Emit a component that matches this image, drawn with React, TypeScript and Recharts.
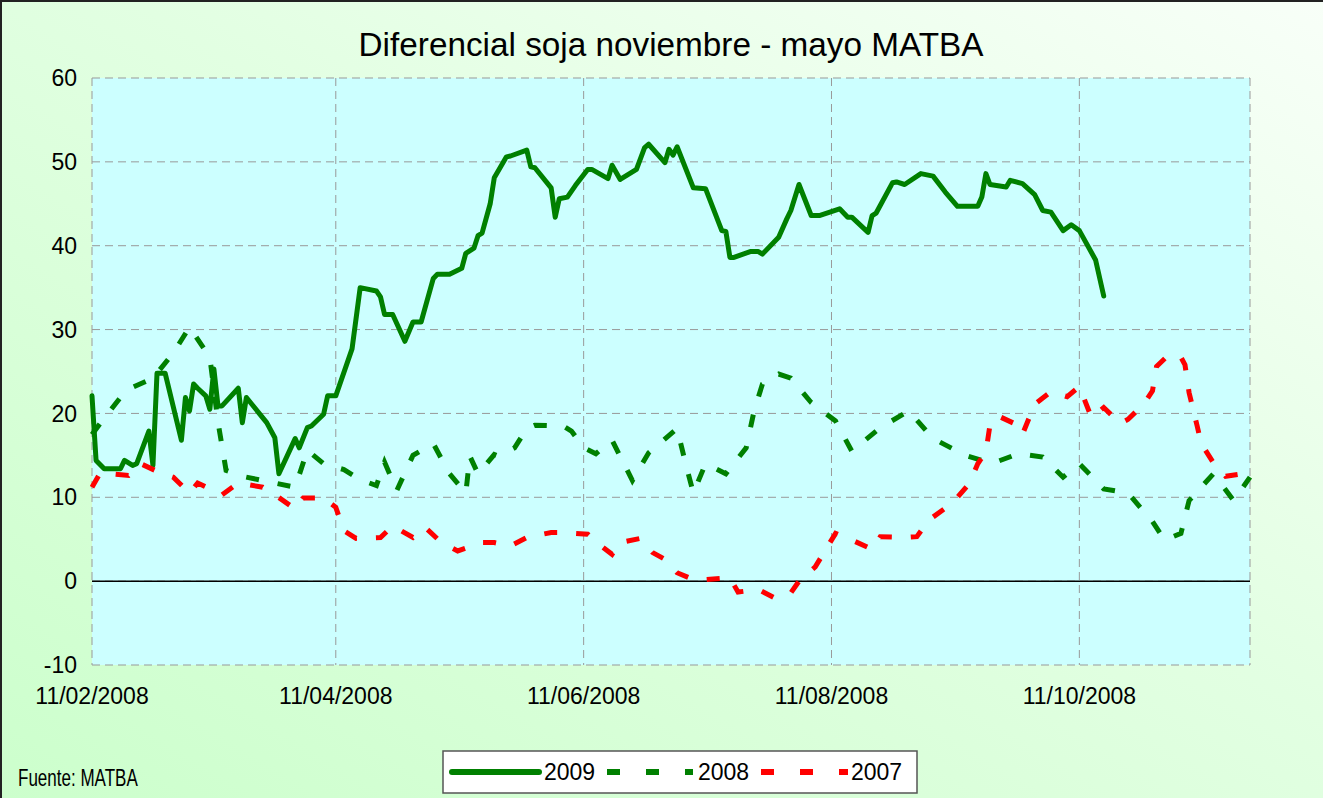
import React from 'react';
import { LineChart, Line, XAxis, YAxis, CartesianGrid, ReferenceLine } from 'recharts';

// x values are days counted from 11/02/2008
const tickDays = [0, 60, 121, 182, 243];
const tickLabels = ['11/02/2008', '11/04/2008', '11/06/2008', '11/08/2008', '11/10/2008'];
const yTicks = [-10, 0, 10, 20, 30, 40, 50, 60];

const days2009 = [0, 1, 3, 7, 8, 10, 11, 14, 15, 16, 18, 22, 23, 24, 25, 26, 28, 29, 30, 31, 32, 36, 37, 38, 43, 45, 46, 50, 51, 53, 54, 57, 58, 60, 64, 66, 70, 71, 72, 74, 77, 79, 81, 84, 85, 88, 91, 92, 94, 95, 96, 98, 99, 102, 103, 107, 108, 109, 113, 114, 115, 117, 119, 122, 123, 127, 128, 130, 134, 136, 137, 141, 142, 143, 144, 148, 151, 155, 156, 157, 158, 162, 164, 165, 169, 171, 172, 174, 177, 179, 184, 186, 187, 191, 192, 193, 197, 198, 200, 204, 207, 210, 213, 218, 219, 220, 221, 225, 226, 229, 232, 234, 236, 239, 241, 243, 247, 249];
const values2009 = [22.1, 14.4, 13.4, 13.4, 14.4, 13.8, 14.0, 17.9, 13.8, 24.8, 24.8, 16.8, 21.9, 20.3, 23.5, 23.0, 22.1, 20.5, 25.3, 20.9, 20.9, 23.0, 18.9, 21.9, 18.9, 17.1, 12.8, 17.0, 15.9, 18.3, 18.5, 19.9, 22.1, 22.1, 27.7, 35.0, 34.6, 33.9, 31.8, 31.8, 28.6, 30.9, 30.9, 36.1, 36.6, 36.6, 37.3, 39.1, 39.7, 41.2, 41.5, 45.0, 48.1, 50.6, 50.7, 51.4, 49.4, 49.3, 46.9, 43.4, 45.6, 45.8, 47.2, 49.1, 49.1, 48.0, 49.6, 47.9, 49.1, 51.7, 52.1, 49.9, 51.5, 50.8, 51.8, 46.9, 46.8, 41.8, 41.7, 38.6, 38.6, 39.3, 39.3, 39.0, 41.0, 43.2, 44.2, 47.3, 43.6, 43.6, 44.4, 43.4, 43.4, 41.6, 43.6, 43.9, 47.5, 47.6, 47.3, 48.6, 48.3, 46.4, 44.7, 44.7, 45.8, 48.6, 47.3, 47.0, 47.8, 47.4, 46.1, 44.2, 44.0, 41.8, 42.5, 41.8, 38.3, 34.0];

const days2008 = [0, 2, 7, 9, 15, 20, 24, 29, 31, 33, 37, 45, 50, 53, 57, 62, 66, 70, 72, 75, 79, 84, 88, 92, 93, 95, 99, 100, 104, 107, 109, 116, 118, 121, 124, 128, 133, 137, 144, 146, 148, 151, 156, 161, 163, 165, 169, 172, 177, 183, 187, 194, 201, 207, 215, 221, 223, 228, 234, 239, 243, 249, 255, 261, 264, 268, 270, 276, 281, 285];
const values2008 = [17.5, 18.8, 21.9, 22.9, 24.2, 27.2, 30.3, 26.7, 19.0, 13.2, 12.5, 11.7, 11.2, 15.6, 14.0, 13.3, 12.1, 11.4, 14.2, 10.8, 15.0, 16.4, 12.8, 10.5, 14.9, 12.8, 15.1, 14.9, 15.9, 18.2, 18.6, 18.5, 17.9, 15.9, 15.2, 16.8, 12.0, 15.3, 18.2, 14.2, 10.5, 14.0, 12.8, 15.9, 20.4, 23.5, 24.7, 24.2, 21.3, 19.1, 15.5, 18.3, 20.3, 17.0, 15.0, 14.1, 14.3, 15.2, 14.8, 12.4, 14.0, 11.0, 10.5, 7.1, 4.9, 5.7, 9.6, 12.8, 9.6, 12.4];

const days2007 = [0, 2, 9, 12, 16, 20, 24, 26, 32, 36, 42, 45, 50, 52, 57, 60, 62, 65, 71, 74, 79, 82, 86, 90, 96, 99, 103, 107, 113, 116, 122, 125, 128, 130, 135, 138, 141, 144, 148, 151, 157, 159, 164, 168, 172, 174, 178, 180, 183, 187, 192, 194, 200, 203, 206, 210, 213, 216, 218, 220, 221, 223, 227, 229, 232, 236, 240, 243, 246, 249, 252, 253, 255, 259, 261, 262, 265, 268, 269, 270, 272, 273, 276, 279, 283, 285];
const values2007 = [11.2, 12.9, 12.6, 14.0, 13.1, 12.4, 10.5, 11.7, 10.3, 11.7, 11.2, 10.3, 8.6, 9.9, 9.9, 8.8, 6.0, 5.1, 5.2, 6.6, 5.2, 6.4, 4.6, 3.6, 4.6, 4.6, 4.2, 5.2, 5.8, 5.8, 5.6, 4.3, 3.2, 4.6, 5.1, 3.4, 2.6, 1.0, 0.2, 0.2, 0.4, -1.3, -1.0, -2.0, -1.4, 0.0, 1.7, 3.3, 5.7, 4.9, 3.8, 5.3, 5.2, 5.3, 7.3, 8.7, 10.0, 11.7, 14.0, 15.4, 18.6, 19.7, 18.8, 17.5, 21.1, 22.6, 22.0, 23.2, 19.5, 20.7, 19.3, 18.8, 19.3, 21.2, 22.7, 25.6, 27.0, 26.7, 25.8, 22.5, 18.5, 16.4, 14.1, 12.5, 12.8, 11.7];

const toPoints = (days: number[], values: number[]) => days.map((d, i) => ({ day: d, value: values[i] }));

const series2009 = toPoints(days2009, values2009);
const series2008 = toPoints(days2008, values2008);
const series2007 = toPoints(days2007, values2007);

const FONT = "Arial, 'Liberation Sans', sans-serif";
const GREEN = '#008000';
const RED = '#FF0000';

const ChartLegend = () => (
  <svg width={476} height={44} style={{ position: 'absolute', left: 442, top: 750 }}>
    <rect x={1} y={1} width={474} height={42} fill="#fff" stroke="#555" strokeWidth={1.5} />
    <line x1={10} y1={22} x2={97} y2={22} stroke={GREEN} strokeWidth={6} strokeLinecap="round" />
    <text x={102} y={30} fontSize={23} fontFamily={FONT}>2009</text>
    <line x1={165} y1={22} x2={251} y2={22} stroke={GREEN} strokeWidth={6} strokeDasharray="13 26" />
    <text x={256} y={30} fontSize={23} fontFamily={FONT}>2008</text>
    <line x1={319} y1={22} x2={406} y2={22} stroke={RED} strokeWidth={6} strokeDasharray="13 26" />
    <text x={409} y={30} fontSize={23} fontFamily={FONT}>2007</text>
  </svg>
);

const App = () => {
  return (
    <div
      style={{
        position: 'absolute',
        left: 0,
        top: 0,
        width: 1323,
        height: 798,
        background: 'linear-gradient(to top right, #ccffcc 0%, #e2ffe2 55%, #f8fff8 100%)',
        fontFamily: FONT,
        overflow: 'hidden',
      }}
    >
      <div
        style={{
          position: 'absolute',
          left: 92,
          width: 1158,
          top: 28,
          textAlign: 'center',
          fontSize: 33.3,
          lineHeight: '33px',
          color: '#000',
        }}
      >
        Diferencial soja noviembre - mayo MATBA
      </div>
      <LineChart
        width={1323}
        height={798}
        margin={{ top: 78, right: 73, left: 32, bottom: 73 }}
        style={{ position: 'absolute', left: 0, top: 0 }}
      >
        <CartesianGrid fill="#CCFFFF" stroke="#999" strokeDasharray="8 5" />
        <XAxis
          dataKey="day"
          type="number"
          domain={[0, 285]}
          ticks={tickDays}
          tickFormatter={(v: number) => tickLabels[tickDays.indexOf(v)] ?? ''}
          axisLine={false}
          tickLine={false}
          tickMargin={17}
          height={60}
          tick={{ fill: '#000', fontSize: 23, fontFamily: FONT }}
          allowDuplicatedCategory={false}
        />
        <YAxis
          type="number"
          domain={[-10, 60]}
          ticks={yTicks}
          interval={0}
          axisLine={false}
          tickLine={false}
          tickMargin={9}
          width={60}
          tick={{ fill: '#000', fontSize: 23, fontFamily: FONT }}
        />
        <ReferenceLine y={0} stroke="#000" strokeWidth={1.5} />
        <Line
          data={series2009}
          dataKey="value"
          name="2009"
          stroke={GREEN}
          strokeWidth={5}
          strokeLinejoin="round"
          strokeLinecap="round"
          dot={false}
          type="linear"
          isAnimationActive={false}
        />
        <Line
          data={series2008}
          dataKey="value"
          name="2008"
          stroke={GREEN}
          strokeWidth={5}
          strokeDasharray="13 19"
          dot={false}
          type="linear"
          isAnimationActive={false}
        />
        <Line
          data={series2007}
          dataKey="value"
          name="2007"
          stroke={RED}
          strokeWidth={5}
          strokeDasharray="13 19"
          dot={false}
          type="linear"
          isAnimationActive={false}
        />
      </LineChart>
      <ChartLegend />
      <div
        style={{
          position: 'absolute',
          left: 18,
          top: 767,
          fontSize: 23,
          lineHeight: '23px',
          transform: 'scaleX(0.74)',
          transformOrigin: 'left center',
        }}
      >
        Fuente: MATBA
      </div>
      <div
        style={{
          position: 'absolute',
          left: 0,
          top: 0,
          width: 1323,
          height: 798,
          borderLeft: '2px solid #222',
          borderTop: '2px solid #222',
          boxSizing: 'border-box',
          pointerEvents: 'none',
        }}
      />
    </div>
  );
};

export default App;
